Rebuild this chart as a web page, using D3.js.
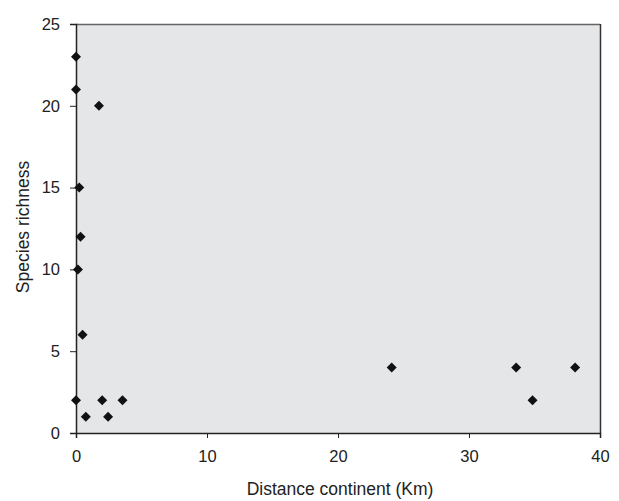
<!DOCTYPE html>
<html><head><meta charset="utf-8">
<script src="https://cdn.jsdelivr.net/npm/d3@7"></script>
<style>body{margin:0;background:#fff}svg{display:block}text{font-family:"Liberation Sans",Arial,sans-serif}</style>
</head><body><svg id="c" width="619" height="501"></svg>
<script>
const distance = [0, 0, 1.75, 0.25, 0.35, 0.15, 0.5, 0, 0.75, 2.0, 2.45, 3.55, 24.1, 33.6, 34.85, 38.1];
const richness = [23, 21, 20, 15, 12, 10, 6, 2, 1, 2, 1, 2, 4, 4, 2, 4];
const xTicks = [0, 10, 20, 30, 40];
const yTicks = [0, 5, 10, 15, 20, 25];
const xTitle = "Distance continent (Km)";
const yTitle = "Species richness";

const svg = d3.select("#c");
const L = 76, R = 600, T = 24, B = 433;
const x = d3.scaleLinear().domain([0, 40]).range([L, R]);
const y = d3.scaleLinear().domain([0, 25]).range([B, T]);

svg.append("rect").attr("x", L).attr("y", T).attr("width", R - L).attr("height", B - T).attr("fill", "#e5e6e8");
svg.append("line").attr("x1", L).attr("x2", R).attr("y1", T + 0.5).attr("y2", T + 0.5).attr("stroke", "#666").attr("stroke-width", 1.5);
svg.append("line").attr("x1", R + 0.5).attr("x2", R + 0.5).attr("y1", T).attr("y2", B).attr("stroke", "#333").attr("stroke-width", 1.5);

const xa = svg.append("g").attr("transform", `translate(0,${B})`)
  .call(d3.axisBottom(x).tickValues(xTicks).tickSize(5).tickPadding(12).tickFormat(d3.format("d")));
const ya = svg.append("g").attr("transform", `translate(${L},0)`)
  .call(d3.axisLeft(y).tickValues(yTicks).tickSize(6).tickPadding(10).tickFormat(d3.format("d")));
[xa, ya].forEach(g => {
  g.select(".domain").attr("stroke", "#222").attr("stroke-width", 1.5);
  g.selectAll(".tick line").attr("stroke", "#222");
  g.selectAll("text").attr("font-size", 16.5).attr("fill", "#222").attr("font-family", "Liberation Sans, Arial, sans-serif");
});

const data = distance.map((d, i) => ({ d, r: richness[i] }));
svg.append("g").selectAll("path").data(data).join("path")
  .attr("d", d3.symbol(d3.symbolSquare, 50))
  .attr("transform", p => `translate(${x(p.d)},${y(p.r)}) rotate(45)`)
  .attr("fill", "#111");

svg.append("text").attr("x", 340).attr("y", 495).attr("text-anchor", "middle")
  .attr("font-size", 17.5).attr("fill", "#222").text(xTitle);
svg.append("text").attr("transform", "translate(29,227) rotate(-90)").attr("text-anchor", "middle")
  .attr("font-size", 17.5).attr("fill", "#222").text(yTitle);
</script></body></html>
